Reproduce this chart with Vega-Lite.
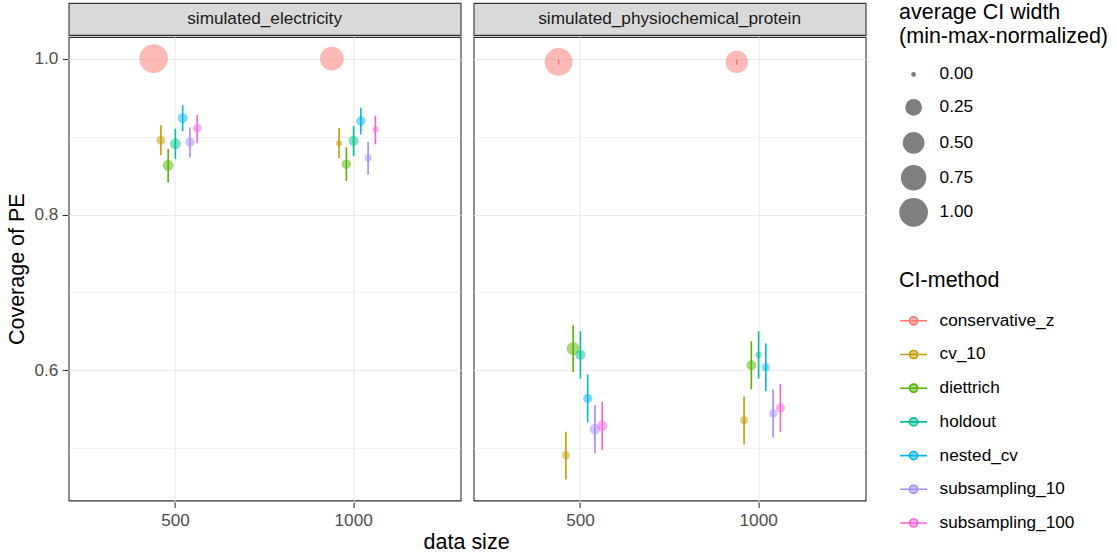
{
  "$schema": "https://vega.github.io/schema/vega-lite/v6.json",
  "padding": {"left": 6.6, "top": 2, "right": 10, "bottom": 2},
  "datasets": {
    "strips": [
      {"dataset": "simulated_electricity"},
      {"dataset": "simulated_physiochemical_protein"}
    ],
    "main": [
      {"dataset": "simulated_electricity", "size": 500, "method": "conservative_z", "coverage": 1.0, "lo": 1.0, "hi": 1.0, "ciw": 1.0},
      {"dataset": "simulated_electricity", "size": 500, "method": "cv_10", "coverage": 0.895, "lo": 0.876, "hi": 0.9145, "ciw": 0.03},
      {"dataset": "simulated_electricity", "size": 500, "method": "diettrich", "coverage": 0.863, "lo": 0.841, "hi": 0.884, "ciw": 0.07},
      {"dataset": "simulated_electricity", "size": 500, "method": "holdout", "coverage": 0.8906, "lo": 0.871, "hi": 0.910, "ciw": 0.07},
      {"dataset": "simulated_electricity", "size": 500, "method": "nested_cv", "coverage": 0.9235, "lo": 0.9068, "hi": 0.940, "ciw": 0.05},
      {"dataset": "simulated_electricity", "size": 500, "method": "subsampling_10", "coverage": 0.8927, "lo": 0.873, "hi": 0.9115, "ciw": 0.04},
      {"dataset": "simulated_electricity", "size": 500, "method": "subsampling_100", "coverage": 0.9107, "lo": 0.892, "hi": 0.928, "ciw": 0.03},
      {"dataset": "simulated_electricity", "size": 1000, "method": "conservative_z", "coverage": 1.0, "lo": 1.0, "hi": 1.0, "ciw": 0.63},
      {"dataset": "simulated_electricity", "size": 1000, "method": "cv_10", "coverage": 0.8914, "lo": 0.872, "hi": 0.911, "ciw": 0.006},
      {"dataset": "simulated_electricity", "size": 1000, "method": "diettrich", "coverage": 0.8645, "lo": 0.843, "hi": 0.886, "ciw": 0.04},
      {"dataset": "simulated_electricity", "size": 1000, "method": "holdout", "coverage": 0.8944, "lo": 0.875, "hi": 0.9137, "ciw": 0.05},
      {"dataset": "simulated_electricity", "size": 1000, "method": "nested_cv", "coverage": 0.9197, "lo": 0.9026, "hi": 0.9368, "ciw": 0.04},
      {"dataset": "simulated_electricity", "size": 1000, "method": "subsampling_10", "coverage": 0.8727, "lo": 0.851, "hi": 0.893, "ciw": 0.011},
      {"dataset": "simulated_electricity", "size": 1000, "method": "subsampling_100", "coverage": 0.909, "lo": 0.890, "hi": 0.9265, "ciw": 0.006},
      {"dataset": "simulated_physiochemical_protein", "size": 500, "method": "conservative_z", "coverage": 0.9957, "lo": 0.9923, "hi": 0.9988, "ciw": 0.92},
      {"dataset": "simulated_physiochemical_protein", "size": 500, "method": "cv_10", "coverage": 0.4914, "lo": 0.4603, "hi": 0.5214, "ciw": 0.018},
      {"dataset": "simulated_physiochemical_protein", "size": 500, "method": "diettrich", "coverage": 0.628, "lo": 0.598, "hi": 0.658, "ciw": 0.127},
      {"dataset": "simulated_physiochemical_protein", "size": 500, "method": "holdout", "coverage": 0.620, "lo": 0.5897, "hi": 0.6504, "ciw": 0.048},
      {"dataset": "simulated_physiochemical_protein", "size": 500, "method": "nested_cv", "coverage": 0.564, "lo": 0.5333, "hi": 0.5949, "ciw": 0.036},
      {"dataset": "simulated_physiochemical_protein", "size": 500, "method": "subsampling_10", "coverage": 0.5248, "lo": 0.494, "hi": 0.5556, "ciw": 0.061},
      {"dataset": "simulated_physiochemical_protein", "size": 500, "method": "subsampling_100", "coverage": 0.529, "lo": 0.4979, "hi": 0.5598, "ciw": 0.061},
      {"dataset": "simulated_physiochemical_protein", "size": 1000, "method": "conservative_z", "coverage": 0.9957, "lo": 0.9923, "hi": 0.9988, "ciw": 0.54},
      {"dataset": "simulated_physiochemical_protein", "size": 1000, "method": "cv_10", "coverage": 0.5363, "lo": 0.5051, "hi": 0.5667, "ciw": 0.018},
      {"dataset": "simulated_physiochemical_protein", "size": 1000, "method": "diettrich", "coverage": 0.6068, "lo": 0.576, "hi": 0.6376, "ciw": 0.048},
      {"dataset": "simulated_physiochemical_protein", "size": 1000, "method": "holdout", "coverage": 0.620, "lo": 0.5897, "hi": 0.6504, "ciw": 0.006},
      {"dataset": "simulated_physiochemical_protein", "size": 1000, "method": "nested_cv", "coverage": 0.6043, "lo": 0.5735, "hi": 0.6346, "ciw": 0.018},
      {"dataset": "simulated_physiochemical_protein", "size": 1000, "method": "subsampling_10", "coverage": 0.5449, "lo": 0.514, "hi": 0.576, "ciw": 0.027},
      {"dataset": "simulated_physiochemical_protein", "size": 1000, "method": "subsampling_100", "coverage": 0.5521, "lo": 0.5214, "hi": 0.583, "ciw": 0.036}
    ]
  },
  "vconcat": [
    {
      "data": {"name": "strips"},
      "facet": {"column": {"field": "dataset", "type": "nominal", "title": null, "header": {"labels": false, "title": null}}},
      "spacing": 11,
      "spec": {
        "width": 392,
        "height": 32,
        "view": {"fill": "#D9D9D9", "stroke": "#333333", "strokeWidth": 1.1},
        "mark": {"type": "text", "fontSize": 17.2, "color": "#1A1A1A", "font": "Liberation Sans"},
        "encoding": {"text": {"field": "dataset", "type": "nominal"}}
      }
    },
    {
      "data": {"name": "main"},
      "facet": {"column": {"field": "dataset", "type": "nominal", "title": "data size",
        "header": {"labels": false, "titleOrient": "bottom", "titleFont": "Liberation Sans", "titleFontSize": 21.5, "titleFontWeight": "normal", "titleColor": "#000000", "titlePadding": -7}}},
      "spacing": 11,
      "spec": {
        "width": 392,
        "height": 463.5,
        "encoding": {
          "x": {
            "field": "size", "type": "ordinal", "sort": [500, 1000],
            "scale": {"type": "band", "paddingInner": 0, "paddingOuter": 0.1},
            "axis": {"title": null, "labelAngle": 0, "bandPosition": 0.5, "grid": true, "gridWidth": 1.2}
          },
          "xOffset": {"field": "method", "type": "nominal", "scale": {"type": "point", "range": [63.6, 114.4]}},
          "color": {
            "field": "method", "type": "nominal",
            "scale": {
              "domain": ["conservative_z", "cv_10", "diettrich", "holdout", "nested_cv", "subsampling_10", "subsampling_100"],
              "range": ["#F8766D", "#C49A00", "#53B400", "#00C094", "#00B6EB", "#A58AFF", "#FB61D7"]
            },
            "legend": {
              "title": "CI-method",
              "orient": "none", "legendX": 830.5, "legendY": 266.8,
              "symbolType": "M-1,0H1M-0.3,0A0.3,0.3 0 1,1 0.3,0A0.3,0.3 0 1,1 -0.3,0Z",
              "symbolSize": 729, "symbolStrokeWidth": 1.6, "symbolOpacity": 1,
              "rowPadding": 10.7,
              "titlePadding": 15,
              "labelOffset": 11.5,
              "encode": {"symbols": {"update": {
                "fill": {"scale": "color", "field": "value"},
                "stroke": {"scale": "color", "field": "value"},
                "fillOpacity": {"value": 0.5},
                "strokeOpacity": {"value": 1},
                "opacity": {"value": 1}
              }}}
            }
          }
        },
        "layer": [
          {
            "mark": {"type": "rule", "strokeWidth": 1.6},
            "encoding": {
              "y": {"field": "lo", "type": "quantitative"},
              "y2": {"field": "hi"}
            }
          },
          {
            "mark": {"type": "circle", "opacity": 0.5},
            "encoding": {
              "y": {
                "field": "coverage", "type": "quantitative",
                "scale": {"domain": [0.4333, 1.0276], "nice": false, "zero": false},
                "axis": {
                  "title": "Coverage of PE",
                  "values": [0.5, 0.6, 0.7, 0.8, 0.9, 1.0],
                  "labelExpr": "round(datum.value*10) % 2 == 0 ? format(datum.value, '.1f') : ''",
                  "gridWidth": {"condition": {"test": "round(datum.value*10) % 2 == 0", "value": 1.2}, "value": 0.6},
                  "tickOpacity": {"condition": {"test": "round(datum.value*10) % 2 == 0", "value": 1}, "value": 0},
                  "titlePadding": 5.4
                }
              },
              "size": {
                "field": "ciw", "type": "quantitative",
                "scale": {"type": "linear", "domain": [0, 0.01, 0.04, 0.1, 0.25, 0.5, 0.75, 1], "range": [22.9, 51.4, 91.5, 152.4, 280.1, 470.7, 650.1, 823.7], "zero": false, "nice": false},
                "legend": {
                  "title": ["average CI width", "\u00a0(min-max-normalized)"],
                  "titleLimit": 400,
                  "titleLineHeight": 24,
                  "titlePadding": 18,
                  "values": [0, 0.25, 0.5, 0.75, 1],
                  "format": ".2f",
                  "orient": "none", "legendX": 830.5, "legendY": -0.7,
                  "symbolType": "circle",
                  "symbolOpacity": 1,
                  "symbolFillColor": "#7F7F7F",
                  "symbolStrokeWidth": 0,
                  "gridAlign": "all",
                  "rowPadding": 3,
                  "labelOffset": 11.5
                }
              }
            }
          }
        ]
      }
    }
  ],
  "spacing": 0,
  "config": {
    "font": "Liberation Sans",
    "background": "#FFFFFF",
    "view": {"stroke": "#333333", "strokeWidth": 1.1},
    "axis": {
      "domain": false,
      "gridColor": "#EBEBEB",
      "tickColor": "#333333",
      "tickSize": 5.4,
      "tickWidth": 1.1,
      "labelFont": "Liberation Sans",
      "labelFontSize": 17.2,
      "labelColor": "#4D4D4D",
      "labelPadding": 4.3,
      "titleFont": "Liberation Sans",
      "titleFontSize": 21.5,
      "titleFontWeight": "normal",
      "titleColor": "#000000"
    },
    "legend": {
      "padding": 0,
      "symbolBaseFillColor": "#7F7F7F",
      "symbolBaseStrokeColor": "transparent",
      "labelFont": "Liberation Sans",
      "labelFontSize": 17.2,
      "labelColor": "#000000",
      "titleFont": "Liberation Sans",
      "titleFontSize": 21.5,
      "titleFontWeight": "normal",
      "titleColor": "#000000"
    }
  }
}
